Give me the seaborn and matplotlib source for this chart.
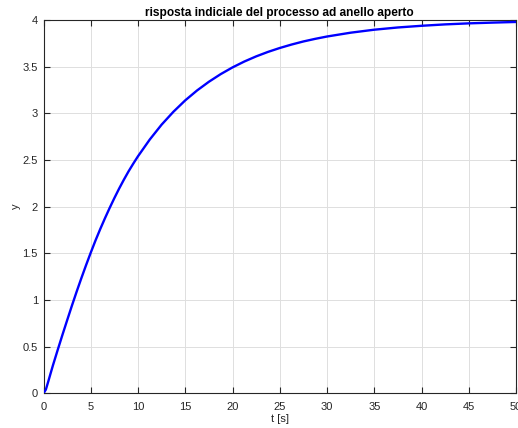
import numpy as np
import pandas as pd
import matplotlib
matplotlib.use("Agg")
import matplotlib.pyplot as plt
import seaborn as sns

# values
t_values = [0, 0.25, 0.5, 0.75, 1.0, 1.5, 2.0, 2.5, 3.0, 3.5, 4.0, 4.5, 5.0, 5.5, 6.0,
            6.5, 7.0, 7.5, 8.0, 8.5, 9.0, 9.5, 10.0, 11.25, 12.5, 13.75, 15.0, 16.25,
            17.5, 18.75, 20.0, 21.25, 22.5, 23.75, 25.0, 26.25, 27.5, 28.75, 30.0,
            32.5, 35.0, 37.5, 40.0, 42.5, 45.0, 47.5, 50.0]
y_values = [0, 0.04, 0.125, 0.213, 0.30, 0.464, 0.625, 0.782, 0.937, 1.087, 1.232, 1.372,
            1.507, 1.637, 1.759, 1.875, 1.986, 2.092, 2.193, 2.288, 2.378, 2.461, 2.54,
            2.72, 2.879, 3.017, 3.139, 3.245, 3.338, 3.420, 3.492, 3.555, 3.610, 3.658,
            3.700, 3.737, 3.770, 3.798, 3.823, 3.864, 3.896, 3.920, 3.938, 3.953, 3.964,
            3.972, 3.979]
x_ticks = [0, 5, 10, 15, 20, 25, 30, 35, 40, 45, 50]
y_ticks = [0, 0.5, 1, 1.5, 2, 2.5, 3, 3.5, 4]
title_text = "risposta indiciale del processo ad anello aperto"
x_label = "t [s]"
y_label = "y"

sns.set_theme(style="white")
plt.rcParams['font.family'] = ['Liberation Sans', 'DejaVu Sans']

df = pd.DataFrame({"t": t_values, "y": y_values})

fig = plt.figure(figsize=(5.18, 4.28), dpi=100)
ax = fig.add_axes([43.5 / 518, (428 - 393.3) / 428, (516 - 43.5) / 518, (393.3 - 20) / 428])

sns.lineplot(data=df, x="t", y="y", ax=ax, color=(0, 0, 1), linewidth=1.7, zorder=3)

ax.set_xlim(0, 50)
ax.set_ylim(0, 4)
ax.set_xticks(x_ticks)
ax.set_xticklabels([str(v) for v in x_ticks])
ax.set_yticks(y_ticks)
ax.set_yticklabels([("%g" % v) for v in y_ticks])

axcol = (0.15, 0.15, 0.15)
ax.grid(True, color=(0.87, 0.87, 0.87), linewidth=0.7)
ax.set_axisbelow(True)
for s in ax.spines.values():
    s.set_color(axcol)
    s.set_linewidth(0.8)
    s.set_visible(True)
ax.tick_params(axis="both", which="both", direction="in", length=4, width=0.8,
               colors=axcol, labelsize=8, top=True, right=True, bottom=True, left=True,
               labeltop=False, labelright=False)
ax.tick_params(axis="x", pad=6)
ax.tick_params(axis="y", pad=4)

ax.set_xlabel(x_label, fontsize=8, color=axcol, labelpad=2)
ax.set_ylabel(y_label, fontsize=8, color=axcol, labelpad=1.5)
ax.set_title(title_text, fontsize=8.6, fontweight="bold", color="black", pad=3)

fig.savefig("out.png", dpi=100)
